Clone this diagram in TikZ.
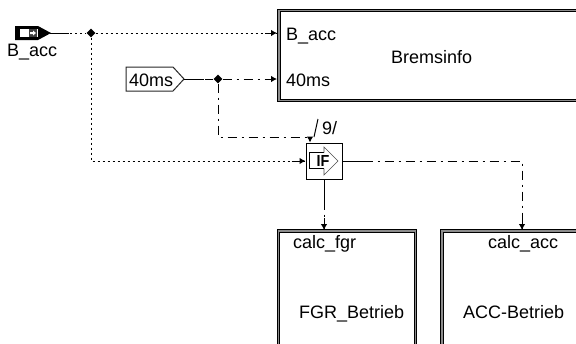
\documentclass[tikz,border=0pt]{standalone}
\usepackage{xcolor}
\usepackage{fontspec}
\setmainfont{Liberation Sans}
\usetikzlibrary{shapes.geometric, arrows.meta}
\tikzset{
    block/.style={draw, double=black!45, double distance=1.3pt, line width=1pt, inner sep=0pt},
    label/.style={inner sep=0pt, anchor=base west, font=\fontsize{18}{18}\selectfont},
    junction/.style={diamond, fill=black, inner sep=0pt, minimum size=9pt},
    dotline/.style={line width=1pt, dash pattern=on 2pt off 3pt},
    dashdotline/.style={line width=1pt, dash pattern=on 9pt off 5pt on 2pt off 5pt},
    stub/.style={line width=1pt},
    tip/.style={line width=1pt, ->, >={Latex[length=6pt, width=6.5pt]}}
}
\begin{document}
\begin{tikzpicture}[x=1pt, y=-1pt]
        \useasboundingbox (0, 0) rectangle (576, 343);
        \clip (0, 0) rectangle (576, 343);

        \node[block, minimum width=340pt, minimum height=90pt] at (449, 55.5) (brems) {};
        \node[block, minimum width=137pt, minimum height=138pt] at (347, 300) (fgr) {};
        \node[block, minimum width=178pt, minimum height=138pt] at (531, 300) (acc) {};
        \node[draw, line width=1pt, minimum size=36pt, inner sep=0pt] at (324, 161) (ifblock) {};

        \node[label] at (286, 40) (bremsaccl) {B\_acc};
        \node[label] at (286, 86) (brems40l) {40ms};
        \node[label] at (391, 63) (bremsl) {Bremsinfo};
        \node[label] at (293, 248) (fgrin) {calc\_fgr};
        \node[label] at (488, 248) (accin) {calc\_acc};
        \node[label] at (299, 318) (fgrl) {FGR\_Betrieb};
        \node[label] at (463, 318) (accl) {ACC-Betrieb};
        \node[label] at (7, 56) (inl) {B\_acc};
        \node[label] at (129, 86) (clockl) {40ms};
        \node[label] at (322, 134) (seql) {9/};

        % inport
        \fill (15, 26) -- (38, 26) -- (51, 33) -- (38, 40) -- (15, 40) -- cycle;
        \fill[white] (20, 29) rectangle (38, 37);
        \fill[black!75] (29, 29) rectangle (37, 37);
        \fill[white] (30, 32) -- (33, 32) -- (33, 30.5) -- (36, 33) -- (33, 35.5) -- (33, 34) -- (30, 34) -- cycle;
        \coordinate (inport) at (50, 33);

        % clock
        \draw[line width=1pt, black!85] (126, 67) -- (173, 67) -- (184, 79) -- (173, 91) -- (126, 91) -- cycle;
        \coordinate (clock) at (184, 79);

        % if symbol
        \draw[line width=1.2pt] (324, 152.5) -- (309.5, 152.5) -- (309.5, 168.5) -- (324, 168.5);
        \draw[line width=.6pt, black!70] (324, 152.5) -- (324, 147) -- (338, 161) -- (324, 175) -- (324, 168.5);
        \node[inner sep=0pt, anchor=base, font=\fontsize{16}{16}\selectfont\bfseries] at (323, 166.5) (iftext) {\scalebox{.9}[1]{IF}};

        \node[junction] at (91, 33) (j1) {};
        \node[junction] at (218, 79) (j2) {};

        \coordinate (bremsacc) at (277, 33);
        \coordinate (brems40) at (277, 79);
        \coordinate (ifleft) at (305.5, 161);
        \coordinate (iftop) at (310, 142.5);
        \coordinate (c1) at (91, 161);
        \coordinate (c2) at (218, 137);
        \coordinate (c3) at (310, 137);
        \coordinate (c4) at (522, 161);
        \coordinate (seqtop) at (318, 119);
        \coordinate (fgrtop) at (324, 230);
        \coordinate (acctop) at (522, 230);

        \draw[dotline] (inport) -- (j1);
        \draw[dotline] (j1) -- (bremsacc);
        \draw[dotline] (j1) -- (c1) -- (ifleft);
        \draw[stub] (inport) -- ++(19, 0);

        \draw[dashdotline] (clock) -- (j2);
        \draw[dashdotline] (j2) -- (brems40);
        \draw[dashdotline] (j2) -- (c2) -- (c3);
        \draw[stub] (clock) -- ++(20, 0);
        \draw[dashdotline] (ifblock.east) -- (c4) -- (acctop);
        \draw[dashdotline] (ifblock.south) -- (fgrtop);
        \draw[stub] (ifblock.east) -- ++(25, 0);
        \draw[stub] (ifblock.south) -- ++(0, 25);

        \draw[tip] (bremsacc) ++(-12, 0) -- (bremsacc);
        \draw[tip] (brems40) ++(-12, 0) -- (brems40);
        \draw[tip] (ifleft) ++(-14, 0) -- (ifleft);
        \draw[tip] (c3) -- (iftop);
        \draw[tip] (fgrtop) ++(0, -12) -- (fgrtop);
        \draw[tip] (acctop) ++(0, -16) -- (acctop);

        \draw[line width=1pt] (c3) ++(4, 0) -- (seqtop);
    \end{tikzpicture}
\end{document}
